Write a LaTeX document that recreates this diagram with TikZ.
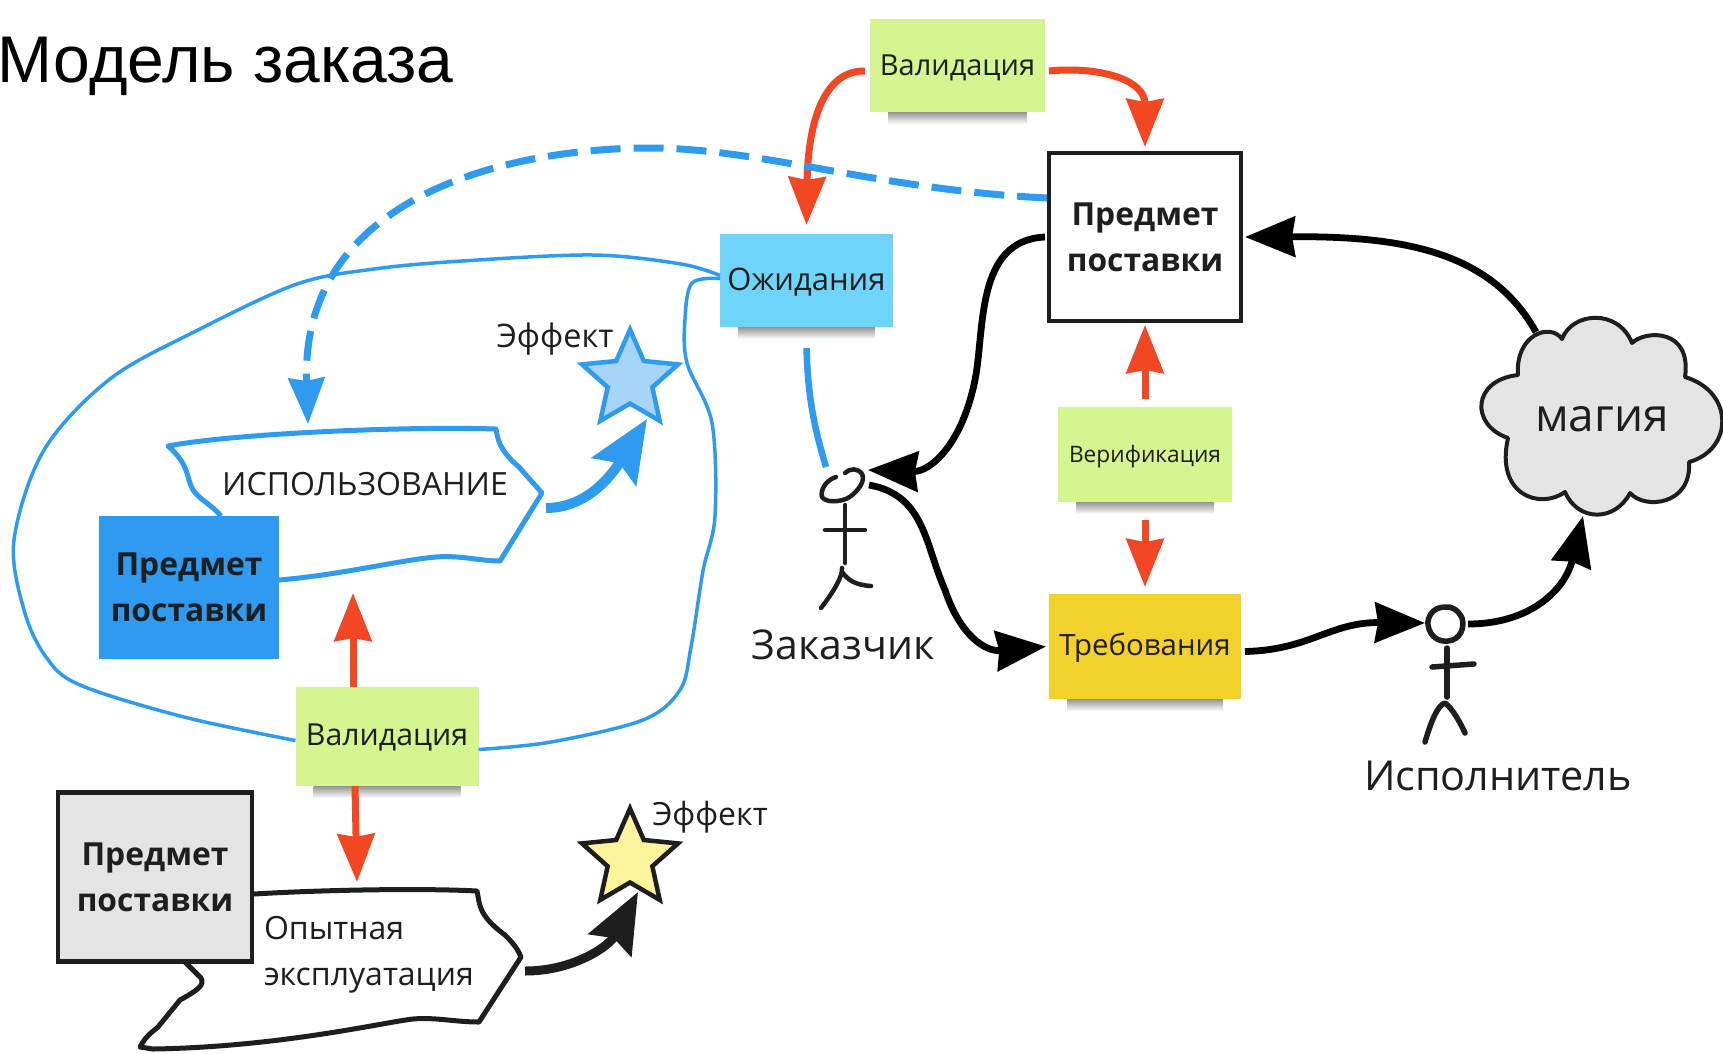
\documentclass[tikz,border=0pt]{standalone}
\usepackage{fontspec}
\setmainfont{Open Sans}
\newfontfamily\titlefont{Liberation Sans}
\usetikzlibrary{arrows.meta,shapes.geometric}
\definecolor{myred}{HTML}{F34723}
\definecolor{myblue}{HTML}{2E9BF0}
\definecolor{mygreen}{HTML}{D4F590}
\definecolor{myyellow}{HTML}{F2D12C}
\definecolor{mycyan}{HTML}{6FD4F9}
\definecolor{mygrey}{HTML}{E4E4E4}
\definecolor{myink}{HTML}{1E1E1E}
\tikzset{
  x=1pt,y=-1pt,
  every node/.style={text=myink,inner sep=0pt,outer sep=0pt},
  note/.style={rectangle,fill=#1,anchor=center},
  label text/.style={font=\fontsize{#1}{#1}\selectfont},
  boldbox/.style={rectangle,align=center,font=\fontsize{31.8}{46}\selectfont\bfseries},
  redarrow/.style={draw=myred,line width=7pt,-{Stealth[length=48pt,width=37pt,inset=3pt]}},
  blkarrow/.style={draw=black,line width=6.8pt,-{Stealth[length=50pt,width=40pt,inset=3pt]}},
  thinloop/.style={draw=myblue,line width=3.5pt},
  figure line/.style={draw=myink,line width=4.5pt,line cap=round,line join=round},
  hand shape/.style={fill=white,line width=5pt,line join=round},
}
\newcommand{\noteshadow}[1]{\shade[top color=black!42,bottom color=white]
  ([xshift=18pt]#1.south west) rectangle ([xshift=-18pt,yshift=-12pt]#1.south east);}
\begin{document}
\begin{tikzpicture}
\useasboundingbox (0,0) rectangle (1723,1053);
\clip (0,0) rectangle (1723,1053);

% title
\node[anchor=base west,font=\fontsize{66}{66}\selectfont\titlefont,text=black] (title) at (-2,82) {Модель заказа};

% sticky notes
\node[note=mygreen,minimum width=175pt,minimum height=93pt,label text=29,text depth=0pt] (valT) at (957.5,65.5) {Валидация};
\node[note=mycyan,minimum width=173pt,minimum height=93pt,label text=31,text depth=2pt] (ojid) at (806.5,280.5) {Ожидания};
\node[note=mygreen,minimum width=174pt,minimum height=95pt,label text=22.7,text depth=2pt] (verif) at (1145,454.5) {Верификация};
\node[note=myyellow,minimum width=192pt,minimum height=105pt,label text=29.4,text depth=4pt] (treb) at (1145,646.5) {Требования};
\node[note=mygreen,minimum width=183pt,minimum height=99pt,label text=30.3,text depth=3pt] (val) at (387,736.5) {Валидация};
\noteshadow{valT}\noteshadow{ojid}\noteshadow{verif}\noteshadow{treb}\noteshadow{val}

% named free ends
\coordinate (useTop) at (308,424);
\coordinate (useLow) at (353,593);
\coordinate (opLow) at (357,882);
\coordinate (useTip) at (546,508);
\coordinate (blueStarIn) at (647,419);
\coordinate (opTip) at (525,971);
\coordinate (yelStarIn) at (638,892);
\coordinate (zakHeadN) at (826,467);
\coordinate (zakIn) at (868,470);
\coordinate (zakOut) at (869,485);
\coordinate (ispIn) at (1425,623);
\coordinate (ispOut) at (1468,624);
\coordinate (cloudOut) at (1536,332);
\coordinate (cloudIn) at (1583,516);

% thin loops
\draw[thinloop] plot[smooth,tension=0.55] coordinates {([yshift=5pt]ojid.west) (681,264) (593,255) (462,261) (374,269) (297,284) (198,330) (110,379) (44,450) (14,540) (24,610) (46,657) (80,685) (184,717) ([yshift=-4pt]val.west)};
\draw[thinloop] plot[smooth,tension=0.55] coordinates {([yshift=2pt]ojid.west) (692,283) (685,319) (687,363) (712,423) (715,516) (703,571) (691,647) (680,690) (643,720) (551,742) ([yshift=-13pt]val.east)};

% usage shape
\draw[hand shape,draw=myblue,line width=5pt] (221,516) .. controls (212,505) and (200,500) .. (193,490) .. controls (186,478) and (190,465) .. (168,446) .. controls (230,434) and (400,426) .. (496,429) .. controls (498,445) and (505,455) .. (519,467) -- (542,493) -- (500,561) .. controls (480,561) and (460,555) .. (436,557) .. controls (400,560) and (340,575) .. (279,580);
\node[label text=32] (useText) at (365,484) {ИСПОЛЬЗОВАНИЕ};
\node[rectangle,fill=myblue,minimum width=180pt,minimum height=143pt,boldbox] (blueBox) at (189,587.5) {Предмет\\поставки};

% experimental shape
\draw[hand shape,draw=myink] (254,894) .. controls (320,890) and (420,888) .. (477,891) .. controls (480,905) and (478,915) .. (505,935) .. controls (515,945) and (518,950) .. (521,957) -- (479,1022) .. controls (455,1022) and (435,1017) .. (413,1019) .. controls (385,1022) and (280,1047) .. (153,1049) -- (140,1047) .. controls (146,1035) and (155,1030) .. (158,1027) -- (180,1000) .. controls (198,990) and (205,985) .. (201,978) -- (181,958);
\node[rectangle,fill=mygrey,draw=myink,line width=4.5pt,minimum width=194pt,minimum height=169pt,boldbox] (greyBox) at (155,877) {Предмет\\поставки};
\node[anchor=west,align=left,font=\fontsize{32}{46}\selectfont] (opText) at (264,955) {Опытная\\эксплуатация};

% top-right box
\node[rectangle,fill=white,draw=myink,line width=4.5pt,minimum width=192pt,minimum height=168pt,boldbox] (pred) at (1145,237) {Предмет\\поставки};

% stars
\node[star,star points=5,star point ratio=2.15,minimum size=101pt,fill=myblue!42,draw=myblue,line width=4.5pt] (blueStar) at (630,380) {};
\node[star,star points=5,star point ratio=2.15,minimum size=101pt,fill=yellow!35!white!95!orange,draw=myink,line width=4.5pt] (yelStar) at (630,859) {};
\node[label text=32.4] (eff1) at (555,339) {Эффект};
\node[label text=32] (eff2) at (710,817) {Эффект};

% cloud
\path[fill=mygrey,draw=myink,line width=4pt,line join=round]
  (1562,339) .. controls (1572,312) and (1618,308) .. (1632,343)
  .. controls (1645,330) and (1692,328) .. (1685,377)
  .. controls (1735,392) and (1733,450) .. (1689,462)
  .. controls (1692,505) and (1645,510) .. (1630,493)
  .. controls (1615,522) and (1578,522) .. (1565,492)
  .. controls (1540,510) and (1495,495) .. (1508,438)
  .. controls (1470,425) and (1472,380) .. (1518,375)
  .. controls (1515,335) and (1550,322) .. cycle;
\node[label text=46] (magic) at (1602,419) {магия};

% stick figure customer
\draw[figure line] (836,477) .. controls (826,480) and (820,490) .. (822,497) .. controls (826,503) and (840,502) .. (848,498) .. controls (858,492) and (866,480) .. (862,474) .. controls (858,468) and (850,468) .. (845,473);
\draw[figure line] (845,505) -- (845,563);
\draw[figure line] (825,530) -- (865,530);
\draw[figure line] (842,568) .. controls (843,575) and (835,590) .. (821,608);
\draw[figure line] (842,572) .. controls (848,580) and (855,585) .. (871,586);
\node[label text=41] (zakText) at (843,645) {Заказчик};

% stick figure performer
\draw[figure line,line width=5.5pt] (1445,607) .. controls (1432,607) and (1427,618) .. (1428,625) .. controls (1430,638) and (1440,642) .. (1448,641) .. controls (1460,640) and (1465,628) .. (1462,618) .. controls (1458,610) and (1452,606) .. (1445,607);
\draw[figure line,line width=5.5pt] (1447,648) -- (1447,697);
\draw[figure line,line width=5.5pt] (1432,667) -- (1474,664);
\draw[figure line,line width=5.5pt] (1425,742) .. controls (1430,725) and (1437,705) .. (1445,703) .. controls (1452,708) and (1460,722) .. (1465,733);
\node[label text=41.3] (ispText) at (1498,776) {Исполнитель};

% red connectors
\draw[redarrow] ([xshift=-5pt,yshift=-5.5pt]valT.west) .. controls (825,70) and (808,120) .. ([yshift=9pt]ojid.north);
\draw[redarrow] ([xshift=4pt,yshift=-5.5pt]valT.east) .. controls (1100,66) and (1145,80) .. ([yshift=6pt]pred.north);
\draw[redarrow] (verif.north) ++(0,-8) -- ([yshift=-4pt]pred.south);
\draw[redarrow] ([yshift=-18pt]verif.south) -- ([yshift=7pt]treb.north);
\draw[redarrow] ([xshift=-34pt]val.north) -- (useLow);
\draw[redarrow] ([xshift=-32pt]val.south) -- (opLow);

% blue connectors
\draw[draw=myblue,line width=7pt,dash pattern=on 30pt off 13pt,-{Stealth[length=46pt,width=36pt,inset=3pt]}] ([xshift=-2pt,yshift=39pt]pred.west) .. controls (880,190) and (760,148) .. (650,148) .. controls (520,148) and (300,190) .. (useTop);
\draw[draw=myblue,line width=6.5pt] ([yshift=-21pt]ojid.south) .. controls (808,400) and (815,430) .. (zakHeadN);
\draw[draw=myblue,line width=10pt,-{Stealth[length=62pt,width=52pt,inset=10pt]}] (useTip) .. controls (590,508) and (615,470) .. (blueStarIn);

% black connectors
\draw[blkarrow] (cloudOut) .. controls (1490,250) and (1400,236) .. ([xshift=4pt]pred.east);
\draw[blkarrow] ([xshift=-4pt]pred.west) .. controls (975,240) and (985,330) .. (975,380) .. controls (962,445) and (930,472) .. (zakIn);
\draw[blkarrow] (zakOut) .. controls (925,495) and (925,545) .. (945,590) .. controls (960,635) and (985,652) .. ([xshift=-3pt]treb.west);
\draw[blkarrow] ([xshift=4pt,yshift=-5pt]treb.east) .. controls (1310,650) and (1330,622) .. (ispIn);
\draw[blkarrow] (ispOut) .. controls (1530,624) and (1565,590) .. (cloudIn);
\draw[draw=myink,line width=9pt,-{Stealth[length=60pt,width=48pt,inset=8pt]}] (opTip) .. controls (575,971) and (610,945) .. (yelStarIn);
\end{tikzpicture}
\end{document}
